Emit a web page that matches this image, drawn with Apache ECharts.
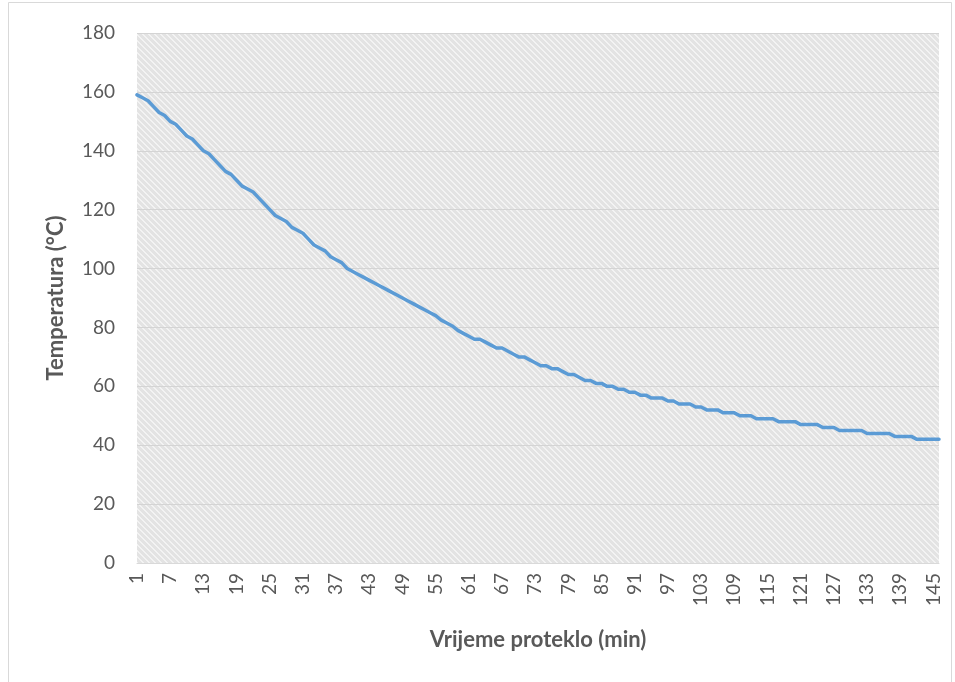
<!DOCTYPE html>
<html>
<head>
<meta charset="utf-8">
<script src="https://cdn.jsdelivr.net/npm/echarts@6/dist/echarts.min.js"></script>
<style>
html,body{margin:0;padding:0;background:#fff;}
#chart{width:955px;height:682px;}
</style>
</head>
<body>
<div id="chart"></div>
<script>
const minutes = [];
for (let m = 1; m <= 146; m++) minutes.push(String(m));

const temperature = [
  159,158,157,155,153,152,150,149,147,145,
  144,142,140,139,137,135,133,132,130,128,
  127,126,124,122,120,118,117,116,114,113,
  112,110,108,107,106,104,103,102,100,99,
  98,97,96,95,94,93,92,91,90,89,
  88,87,86,85,84,82.5,81.5,80.5,79,78,
  77,76,76,75,74,73,73,72,71,70,
  70,69,68,67,67,66,66,65,64,64,
  63,62,62,61,61,60,60,59,59,58,
  58,57,57,56,56,56,55,55,54,54,
  54,53,53,52,52,52,51,51,51,50,
  50,50,49,49,49,49,48,48,48,48,
  47,47,47,47,46,46,46,45,45,45,
  45,45,44,44,44,44,44,43,43,43,
  43,42,42,42,42,42
];

const yTicks = { min: 0, max: 180, interval: 20 };

// hatch pattern for the plot area background
function makePattern() {
  const c = document.createElement('canvas');
  c.width = 6; c.height = 6;
  const g = c.getContext('2d');
  g.fillStyle = '#e3e3e3';
  g.fillRect(0, 0, 6, 6);
  g.fillStyle = '#f3f3f3';
  for (let y = 0; y < 6; y++) {
    const x = (y) % 6;
    g.fillRect(x, y, 2, 1);
    g.fillRect(x - 6, y, 2, 1);
  }
  return c;
}

const chart = echarts.init(document.getElementById('chart'), null, { renderer: 'canvas' });
const font = 'Lato, "Open Sans", sans-serif';

chart.setOption({
  animation: false,
  backgroundColor: '#ffffff',
  graphic: [{
    type: 'rect',
    shape: { x: 8.5, y: 2.5, width: 943, height: 690 },
    style: { fill: 'none', stroke: '#d9d9d9', lineWidth: 1 },
    silent: true, z: -10
  }],
  grid: {
    left: 137, right: 16, top: 33, bottom: 119,
    show: true,
    backgroundColor: { image: makePattern(), repeat: 'repeat' },
    borderWidth: 0
  },
  xAxis: {
    type: 'category',
    data: minutes,
    boundaryGap: false,
    name: 'Vrijeme proteklo (min)',
    nameLocation: 'middle',
    nameGap: 66,
    nameTextStyle: { fontFamily: font, fontSize: 22, fontWeight: 'bold', color: '#595959' },
    axisLine: { show: true, lineStyle: { color: '#d9d9d9', width: 1 } },
    axisTick: { show: false },
    axisLabel: {
      interval: 5, rotate: 90, margin: 10,
      fontFamily: font, fontSize: 19, color: '#595959'
    },
    splitLine: { show: false }
  },
  yAxis: {
    type: 'value',
    min: yTicks.min, max: yTicks.max, interval: yTicks.interval,
    name: 'Temperatura (°C)',
    nameLocation: 'middle',
    nameGap: 70,
    nameTextStyle: { fontFamily: font, fontSize: 22, fontWeight: 'bold', color: '#595959' },
    axisLine: { show: false },
    axisTick: { show: false },
    axisLabel: { fontFamily: font, fontSize: 19, color: '#595959', margin: 22 },
    splitLine: { show: true, lineStyle: { color: '#d4d4d4', width: 1 } }
  },
  series: [{
    type: 'line',
    data: temperature,
    showSymbol: false,
    symbol: 'none',
    lineStyle: { color: '#5b9bd5', width: 3.5, cap: 'round', join: 'round' },
    itemStyle: { color: '#5b9bd5' }
  }]
});
</script>
</body>
</html>
